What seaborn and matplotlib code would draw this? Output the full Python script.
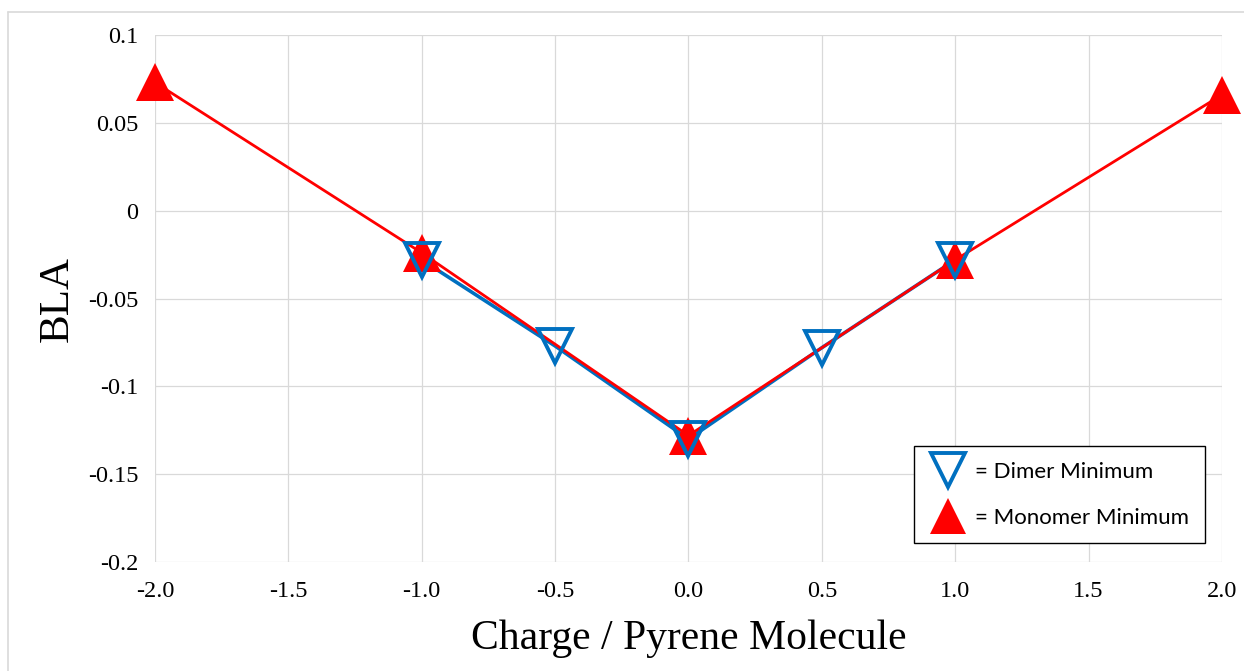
import matplotlib
matplotlib.use("Agg")
import matplotlib.pyplot as plt
from matplotlib.lines import Line2D
import seaborn as sns
import pandas as pd

# values
dimer_charge = [-1.0, -0.5, 0.0, 0.5, 1.0]
dimer_bla = [-0.028, -0.077, -0.130, -0.078, -0.028]

monomer_charge = [-2.0, -1.0, 0.0, 1.0, 2.0]
monomer_bla = [0.073, -0.024, -0.128, -0.028, 0.066]

x_ticks = [-2.0, -1.5, -1.0, -0.5, 0.0, 0.5, 1.0, 1.5, 2.0]
x_labels = ["-2.0", "-1.5", "-1.0", "-0.5", "0.0", "0.5", "1.0", "1.5", "2.0"]
y_ticks = [0.1, 0.05, 0, -0.05, -0.1, -0.15, -0.2]
y_labels = ["0.1", "0.05", "0", "-0.05", "-0.1", "-0.15", "-0.2"]

df_dimer = pd.DataFrame({"Charge": dimer_charge, "BLA": dimer_bla})
df_monomer = pd.DataFrame({"Charge": monomer_charge, "BLA": monomer_bla})

blue = "#0070C0"
red = "#FF0000"

sns.set_style("white")
plt.rcParams["font.family"] = ["Liberation Serif", "DejaVu Serif"]
plt.rcParams["text.color"] = "black"
plt.rcParams["axes.labelcolor"] = "black"
plt.rcParams["xtick.color"] = "black"
plt.rcParams["ytick.color"] = "black"

fig = plt.figure(figsize=(12.44, 6.71), dpi=100)
ax = fig.add_axes([0.1246, 0.1624, 0.8577, 0.7854])

# lines first (blue under red), then markers
sns.lineplot(x="Charge", y="BLA", data=df_dimer, color=blue, linewidth=2.6,
             sort=False, ax=ax, zorder=2)
sns.lineplot(x="Charge", y="BLA", data=df_monomer, color=red, linewidth=2.0,
             sort=False, ax=ax, zorder=3)
ax.plot(df_monomer["Charge"], df_monomer["BLA"], linestyle="none", marker="^",
        markersize=28, color=red, markeredgewidth=0, zorder=4, clip_on=False)
ax.plot(df_dimer["Charge"], df_dimer["BLA"], linestyle="none", marker="v",
        markersize=24, markerfacecolor="none", markeredgecolor=blue,
        markeredgewidth=2.8, zorder=5, clip_on=False)

ax.set_xlim(-2, 2)
ax.set_ylim(-0.2, 0.1)
ax.set_xticks(x_ticks)
ax.set_xticklabels(x_labels)
ax.set_yticks(y_ticks)
ax.set_yticklabels(y_labels)
ax.tick_params(axis="both", labelsize=17.5, length=0)
ax.tick_params(axis="x", pad=14)
ax.tick_params(axis="y", pad=12)
ax.grid(True, color="#D9D9D9", linewidth=0.9)
ax.set_axisbelow(True)
for s in ax.spines.values():
    s.set_visible(False)

ax.set_xlabel("Charge / Pyrene Molecule", fontsize=30, labelpad=12)
ax.set_ylabel("BLA", fontsize=31, labelpad=8)

handles = [
    Line2D([], [], linestyle="none", marker="v", markersize=24,
           markerfacecolor="none", markeredgecolor=blue, markeredgewidth=2.8),
    Line2D([], [], linestyle="none", marker="^", markersize=26,
           color=red, markeredgewidth=0),
]
leg = ax.legend(handles, ["= Dimer Minimum", "= Monomer Minimum"],
                loc="lower right", bbox_to_anchor=(0.984, 0.036),
                borderaxespad=0,
                prop={"family": "Lato", "size": 16}, frameon=True,
                fancybox=False, edgecolor="black", framealpha=1,
                borderpad=0.7, labelspacing=1.15, handletextpad=0.45,
                handlelength=1.6)
leg.get_frame().set_linewidth(1.0)

# chart area border (Excel style)
fig.add_artist(Line2D([8 / 1244, 1], [1 - 12 / 671, 1 - 12 / 671],
                      color="#D9D9D9", linewidth=1.2))
fig.add_artist(Line2D([8 / 1244, 8 / 1244], [0, 1 - 12 / 671],
                      color="#D9D9D9", linewidth=1.2))

fig.savefig("out.png", dpi=100)
